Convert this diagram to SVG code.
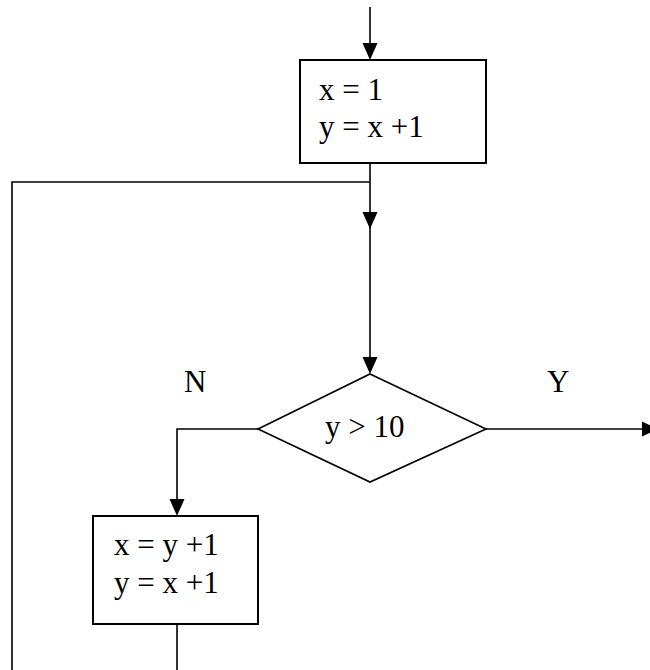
<svg xmlns="http://www.w3.org/2000/svg" width="650" height="670" viewBox="0 0 650 670">
<style>
.box{fill:#fff;stroke:#000;stroke-width:2}
.ln{fill:none;stroke:#000;stroke-width:1.6}
.ah{fill:#000;stroke:none}
text{font-family:"Liberation Serif","Times New Roman",serif;font-size:31px;fill:#000}
</style>
<rect width="650" height="670" fill="#fff"/>
<g id="connectors">
<line class="ln" x1="370" y1="7" x2="370" y2="46"/>
<polygon class="ah" points="362.5,43 377.5,43 370,60"/>
<line class="ln" x1="370" y1="163" x2="370" y2="216"/>
<polygon class="ah" points="362.5,212 377.5,212 370,229"/>
<line class="ln" x1="370" y1="226" x2="370" y2="360"/>
<polygon class="ah" points="362.5,357 377.5,357 370,374"/>
<polyline class="ln" points="370,182 12,182 12,670"/>
<polyline class="ln" points="258,429 177,429 177,502"/>
<polygon class="ah" points="169.5,499 184.5,499 177,516"/>
<line class="ln" x1="177" y1="624" x2="177" y2="670"/>
<line class="ln" x1="486" y1="429" x2="645" y2="429"/>
<polygon class="ah" points="642,421.5 658,429 642,436.5"/>
<text x="184" y="392">N</text>
<text x="547" y="392">Y</text>
</g>
<g id="start">
<rect class="box" x="300" y="60" width="186" height="103"/>
<text x="319" y="100">x = 1</text>
<text x="319" y="137">y = x +1</text>
</g>
<g id="decision">
<polygon class="box" style="stroke-width:1.6" points="370,374 486,429 370,482 258,429"/>
<text x="325" y="437">y &gt; 10</text>
</g>
<g id="loop">
<rect class="box" x="93" y="516" width="165" height="108"/>
<text x="114" y="555">x = y +1</text>
<text x="114" y="593">y = x +1</text>
</g>
</svg>
